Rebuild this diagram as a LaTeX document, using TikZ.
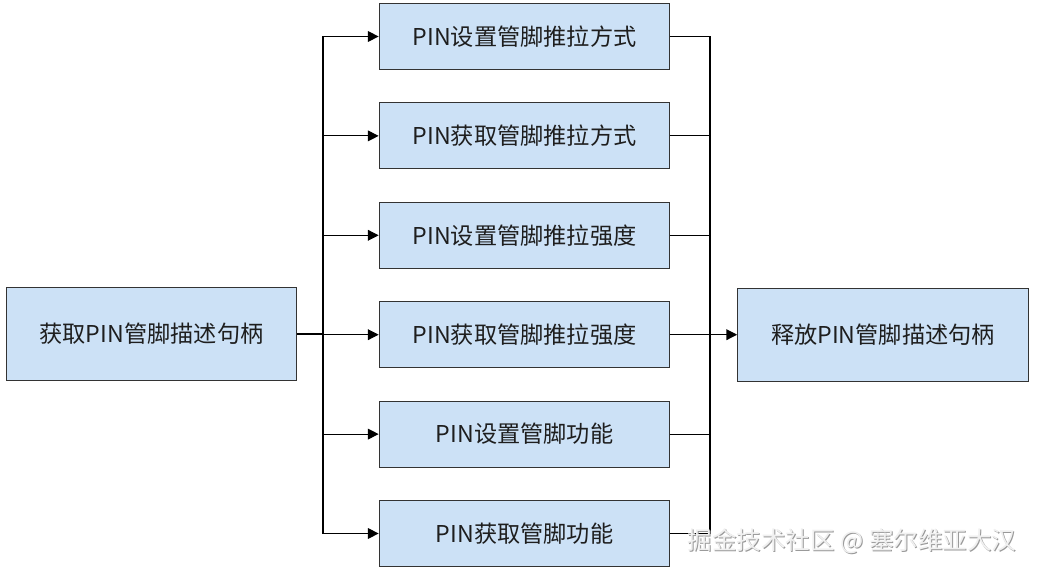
\documentclass[tikz,border=0pt]{standalone}
\usepackage{fontspec}
\newfontfamily\cjk{Noto Sans CJK SC}
\usepackage{tikz}
\usetikzlibrary{arrows.meta}
\definecolor{boxfill}{HTML}{CCE1F6}
\definecolor{boxline}{HTML}{333333}
\definecolor{txt}{HTML}{1E1E1E}
\tikzset{
	pinbox/.style={draw=boxline, fill=boxfill, line width=0.8pt, inner sep=0pt,
		minimum width=218pt, minimum height=49.5pt, text=txt, font=\cjk\fontsize{17.4pt}{19pt}\selectfont},
	bigbox/.style={pinbox, minimum height=70pt},
	wire/.style={draw=black, line width=0.8pt},
	tip/.style={wire, arrows={-{Triangle[length=8pt,width=8pt]}}}
}
\begin{document}
\begin{tikzpicture}[x=0.75pt, y=-0.75pt]
		\useasboundingbox (0,0) rectangle (1037,573);
		\node[bigbox] (get) at (151.5,334) {获取PIN管脚描述句柄};
		\node[bigbox] (free) at (883,335) {释放PIN管脚描述句柄};
		\foreach \i/\t in {0/PIN设置管脚推拉方式, 1/PIN获取管脚推拉方式, 2/PIN设置管脚推拉强度,
			3/PIN获取管脚推拉强度, 4/PIN设置管脚功能, 5/PIN获取管脚功能} {
			\node[pinbox] (B\i) at (524.5,36.5+99.4*\i) {\t};
			\coordinate (JL\i) at (323,36.5+99.4*\i);
			\coordinate (JR\i) at (710,36.5+99.4*\i);
		}
		% fan out
		\draw[wire] (JL0) -- (JL5);
		\draw[wire] (get.east) -- (get.east -| JL0);
		\foreach \i in {0,...,5} {
			\draw[tip] (JL\i) -- (B\i.west);
		}
		% gather
		\draw[wire] (JR0) -- (JR5);
		\foreach \i in {0,1,2,4,5} {
			\draw[wire] (B\i.east) -- (JR\i);
		}
		\draw[tip] (B3.east) -- (B3.east -| free.west);
		% watermark
		\node[text=gray!80, font=\cjk\fontsize{18.4pt}{20pt}\selectfont] (markshadow) at (853,542) {掘金技术社区 @ 塞尔维亚大汉};
		\node[text=white!94!black, font=\cjk\fontsize{18.4pt}{20pt}\selectfont] (mark) at (852,541) {掘金技术社区 @ 塞尔维亚大汉};
	\end{tikzpicture}
\end{document}
